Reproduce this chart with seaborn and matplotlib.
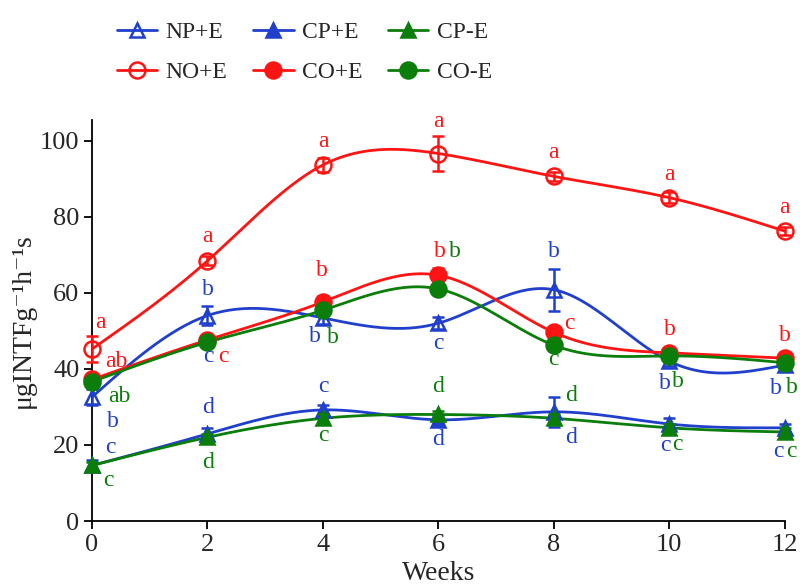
import numpy as np
import pandas as pd
import matplotlib
matplotlib.use("Agg")
import matplotlib.pyplot as plt
from matplotlib.lines import Line2D
import seaborn as sns

# --- data ---
weeks = [0, 2, 4, 6, 8, 10, 12]

np_e = [32.6, 54.0, 53.4, 52.0, 60.8, 42.0, 41.0]
np_e_err = [2.2, 2.5, 1.5, 1.5, 5.5, 1.2, 1.0]
cp_e = [14.6, 22.9, 29.2, 26.6, 28.7, 25.5, 24.5]
cp_e_err = [1.5, 1.5, 1.2, 1.0, 4.0, 1.5, 1.0]
cpm_e = [14.6, 22.0, 27.0, 28.0, 27.0, 24.5, 23.4]
cpm_e_err = [1.0, 1.0, 1.0, 1.0, 1.0, 1.0, 1.0]
no_e = [45.2, 68.4, 93.6, 96.6, 90.6, 85.0, 76.2]
no_e_err = [3.5, 1.2, 1.8, 4.5, 1.2, 1.5, 1.0]
co_e = [37.2, 47.6, 57.6, 64.6, 49.6, 44.2, 42.8]
co_e_err = [1.0, 1.0, 1.5, 1.8, 1.0, 1.0, 1.5]
com_e = [36.6, 47.0, 55.4, 61.0, 46.2, 43.4, 41.6]
com_e_err = [1.0, 1.0, 1.0, 1.0, 1.0, 1.0, 1.0]

names = ["NP+E", "NO+E", "CP+E", "CO+E", "CP-E", "CO-E"]
values = {"NP+E": np_e, "NO+E": no_e, "CP+E": cp_e, "CO+E": co_e,
          "CP-E": cpm_e, "CO-E": com_e}
errors = {"NP+E": np_e_err, "NO+E": no_e_err, "CP+E": cp_e_err, "CO+E": co_e_err,
          "CP-E": cpm_e_err, "CO-E": com_e_err}

# significance letters: (series, week index, text, colour key)
letters = [
    ("NO+E", 0, "a", "r"), ("NO+E", 1, "a", "r"), ("NO+E", 2, "a", "r"), ("NO+E", 3, "a", "r"),
    ("NO+E", 4, "a", "r"), ("NO+E", 5, "a", "r"), ("NO+E", 6, "a", "r"),
    ("CO+E", 0, "ab", "r"), ("CO+E", 1, "c", "b"), ("CO+E", 1, "c", "r"), ("CO+E", 2, "b", "r"),
    ("CO+E", 3, "b", "r"), ("CO+E", 4, "c", "r"), ("CO+E", 5, "b", "r"), ("CO+E", 6, "b", "r"),
    ("CO-E", 0, "ab", "g"), ("CO-E", 2, "b", "g"), ("CO-E", 3, "b", "g"), ("CO-E", 4, "c", "g"),
    ("CO-E", 5, "b", "g"), ("CO-E", 6, "b", "g"),
    ("NP+E", 0, "b", "b"), ("NP+E", 1, "b", "b"), ("NP+E", 2, "b", "b"), ("NP+E", 3, "c", "b"),
    ("NP+E", 4, "b", "b"), ("NP+E", 5, "b", "b"), ("NP+E", 6, "b", "b"),
    ("CP+E", 0, "c", "b"), ("CP+E", 1, "d", "b"), ("CP+E", 2, "c", "b"), ("CP+E", 3, "d", "b"),
    ("CP+E", 4, "d", "b"), ("CP+E", 5, "c", "b"), ("CP+E", 6, "c", "b"),
    ("CP-E", 0, "c", "g"), ("CP-E", 1, "d", "g"), ("CP-E", 2, "c", "g"), ("CP-E", 3, "d", "g"),
    ("CP-E", 4, "d", "g"), ("CP-E", 5, "c", "g"), ("CP-E", 6, "c", "g"),
]
# pixel offsets of each letter from its point (same order as letters)
offsets = [
    (8, 27), (0, 24), (0, 23), (0, 32), (0, 24), (0, 23), (0, 24),
    (24, 18), (1, -17), (16, -17), (-1, 31), (1, 24), (16, 9), (1, 23), (0, 23),
    (27, -15), (10, -27), (16, 37), (0, -14), (9, -26), (7, -25),
    (21, -25), (0, 26), (-8, -19), (0, -20), (0, 38), (-4, -22), (-9, -23),
    (18, 18), (1, 26), (0, 23), (0, -20), (17, -26), (-4, -21), (-6, -24),
    (16, -15), (1, -25), (0, -17), (0, 28), (17, 23), (8, -17), (7, -20),
]

BLUE = "#1f3fcc"
RED = "#ff1414"
GREEN = "#0a7d0a"
cmap = {"b": BLUE, "r": RED, "g": GREEN}
colors = {"NP+E": BLUE, "CP+E": BLUE, "NO+E": RED, "CO+E": RED, "CP-E": GREEN, "CO-E": GREEN}
markers = {"NP+E": "^", "CP+E": "^", "CP-E": "^", "NO+E": "o", "CO+E": "o", "CO-E": "o"}
filled = {"NP+E": False, "NO+E": False, "CP+E": True, "CO+E": True, "CP-E": True, "CO-E": True}
draw_order = ["NO+E", "NP+E", "CO+E", "CO-E", "CP+E", "CP-E"]


def natural_spline(x, y, n=300):
    x = np.asarray(x, float)
    y = np.asarray(y, float)
    k = len(x)
    h = np.diff(x)
    A = np.zeros((k, k))
    r = np.zeros(k)
    A[0, 0] = A[-1, -1] = 1
    for i in range(1, k - 1):
        A[i, i - 1] = h[i - 1]
        A[i, i] = 2 * (h[i - 1] + h[i])
        A[i, i + 1] = h[i]
        r[i] = 6 * ((y[i + 1] - y[i]) / h[i] - (y[i] - y[i - 1]) / h[i - 1])
    M = np.linalg.solve(A, r)
    xs = np.linspace(x[0], x[-1], n)
    idx = np.clip(np.searchsorted(x, xs) - 1, 0, k - 2)
    x0, x1, hh = x[idx], x[idx + 1], h[idx]
    ys = (M[idx] * (x1 - xs) ** 3 / (6 * hh) + M[idx + 1] * (xs - x0) ** 3 / (6 * hh)
          + (y[idx] / hh - M[idx] * hh / 6) * (x1 - xs)
          + (y[idx + 1] / hh - M[idx + 1] * hh / 6) * (xs - x0))
    return xs, ys


sns.set_theme(style="ticks")
plt.rcParams["font.family"] = ["Liberation Serif", "DejaVu Serif"]

fig = plt.figure(figsize=(8, 5.85), dpi=100)
ax = fig.add_axes([0.115, 0.1094, 0.866, 0.686])

rows = []
for name in names:
    xs, ys = natural_spline(weeks, values[name])
    rows.append(pd.DataFrame({"Weeks": xs, "Activity": ys, "Treatment": name}))
curves = pd.concat(rows, ignore_index=True)

for z, name in enumerate(draw_order):
    sub = curves[curves["Treatment"] == name]
    sns.lineplot(data=sub, x="Weeks", y="Activity", color=colors[name], lw=2.0,
                 estimator=None, sort=False, ax=ax, legend=False, zorder=2 + z)
    c = colors[name]
    ms = 11.5 if markers[name] == "o" else 10.5
    ax.errorbar(weeks, values[name], yerr=errors[name], fmt=markers[name], color=c,
                ecolor=c, elinewidth=1.8, capsize=4, capthick=1.8, ms=ms,
                mfc=c if filled[name] else "none", mec=c, mew=1.8,
                clip_on=False, zorder=10 + z)

for (name, i, txt, ck), (dx, dy) in zip(letters, offsets):
    ax.annotate(txt, xy=(weeks[i], values[name][i]), xytext=(dx, dy),
                textcoords="offset pixels", ha="center", va="center",
                fontsize=17, color=cmap[ck], zorder=30, annotation_clip=False)

ax.set_xlim(0, 12)
ax.set_ylim(0, 105.5)
ax.set_xticks(weeks)
ax.set_yticks([0, 20, 40, 60, 80, 100])
ax.tick_params(axis="both", labelsize=19, length=6, width=1.3, color="black", pad=3)
for s in ["top", "right"]:
    ax.spines[s].set_visible(False)
for s in ["left", "bottom"]:
    ax.spines[s].set_color("black")
    ax.spines[s].set_linewidth(1.3)
ax.set_xlabel("Weeks", fontsize=20, labelpad=4)
ax.set_ylabel("μgINTFg⁻¹h⁻¹s", fontsize=20, labelpad=3)

handles = []
for name in names:
    c = colors[name]
    ms = 11.5 if markers[name] == "o" else 10.5
    handles.append(Line2D([0], [0], color=c, lw=2.0, marker=markers[name], ms=ms,
                          mfc=c if filled[name] else "none", mec=c, mew=1.8))
fig.legend(handles, names, loc="upper left", bbox_to_anchor=(0.12, 1.0), ncol=3,
           frameon=False, fontsize=17, handlelength=1.7, handletextpad=0.35,
           columnspacing=1.1, labelspacing=0.8)

fig.savefig("out.png", dpi=100)
